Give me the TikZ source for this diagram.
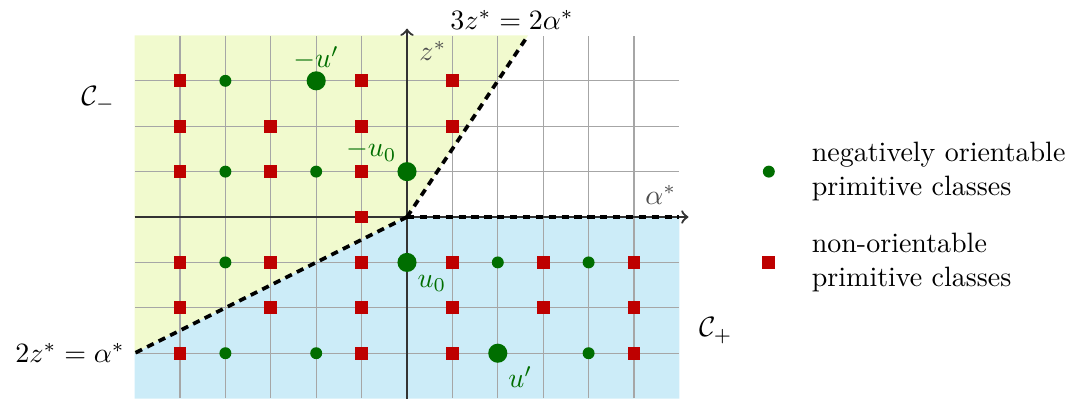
\documentclass[tikz,border=0pt]{standalone}
\usepackage{amsmath}
\usetikzlibrary{positioning}
\definecolor{regminus}{RGB}{241,250,206}
\definecolor{regplus}{RGB}{204,236,248}
\definecolor{dotgreen}{RGB}{0,110,0}
\definecolor{sqred}{RGB}{190,0,0}
\begin{document}
\begin{tikzpicture}[x=0.57cm, y=0.57cm,
  gdot/.style={circle, fill=dotgreen, inner sep=0pt, minimum size=0.15cm},
  bigdot/.style={circle, fill=dotgreen, inner sep=0pt, minimum size=0.24cm},
  rsq/.style={rectangle, fill=sqred, inner sep=0pt, minimum size=0.16cm},
  axis/.style={->, black!80, line width=0.8pt},
  wall/.style={line width=1.3pt, dash pattern=on 2.6pt off 2pt},
  lbl/.style={text=dotgreen, inner sep=1pt}
]
\useasboundingbox (-8.965,-4.119) rectangle (14.648,4.780);

% Chambers
\fill[regminus] (-6,4) -- (8/3,4) -- (0,0) -- (-6,-3) -- cycle;
\fill[regplus] (-6,-3) -- (0,0) -- (6,0) -- (6,-4) -- (-6,-4) -- cycle;
\draw[gray!70, thin, step=0.57cm] (-5.99,-3.99) grid (5.99,3.99);

% Axes
\draw[axis] (0,-4) -- (0,4.15) node[below right, text=black!70, inner sep=4pt] (zlab) {$z^*$};
\draw[axis] (-6,0) -- (6.2,0) node[above left, text=black!70, inner sep=4pt] (alab) {$\alpha^*$};

% Walls
\coordinate (o) at (0,0);
\coordinate (wtop) at (8/3,4);
\coordinate (wleft) at (-6,-3);
\coordinate (wright) at (6,0);
\draw[wall] (o) -- (wtop);
\draw[wall] (o) -- (wleft);
\draw[wall] (o) -- (wright);
\node[above, xshift=-0.2cm, inner sep=2pt] (toplab) at (wtop) {$3z^* = 2\alpha^*$};
\node[left] (leftlab) at (wleft) {$2z^* = \alpha^*$};

% Chamber names
\node (cminus) at (-6.8,2.6) {$\mathcal{C}_-$};
\node (cplus) at (6.8,-2.5) {$\mathcal{C}_+$};

% Non-orientable classes
\foreach \a/\z in {-5/3,-1/3,1/3,-5/2,-3/2,-1/2,1/2,-5/1,-3/1,-1/1,-1/0,
                   -5/-1,-3/-1,-1/-1,1/-1,3/-1,5/-1,-5/-2,-3/-2,-1/-2,1/-2,3/-2,5/-2,
                   -5/-3,-1/-3,1/-3,5/-3}
  \node[rsq] (r\a\z) at (\a,\z) {};

% Negatively orientable classes
\foreach \a/\z in {-4/3,-4/1,-2/1,-4/-1,2/-1,4/-1,-4/-3,-2/-3,4/-3}
  \node[gdot] (g\a\z) at (\a,\z) {};

% Marked classes
\node[bigdot] (mup) at (-2,3) {};
\node[bigdot] (mu0) at (0,1) {};
\node[bigdot] (u0) at (0,-1) {};
\node[bigdot] (up) at (2,-3) {};
\node[lbl, above=-1pt of mup] (mupl) {$-u'$};
\node[lbl, above left=0pt and 0pt of mu0] (mu0l) {$-u_0$};
\node[lbl, below right=1pt and 0pt of u0] (u0l) {$u_0$};
\node[lbl, below right=1pt and 0pt of up] (upl) {$u'$};

% Legend
\node[gdot] (keyg) at (7.97,1) {};
\node[rsq] (keyr) at (7.97,-1) {};
\node[right, align=left] (keygl) at (8.7,1) {negatively orientable\\primitive classes};
\node[right, align=left] (keyrl) at (8.7,-1) {non-orientable\\primitive classes};

\end{tikzpicture}
\end{document}
